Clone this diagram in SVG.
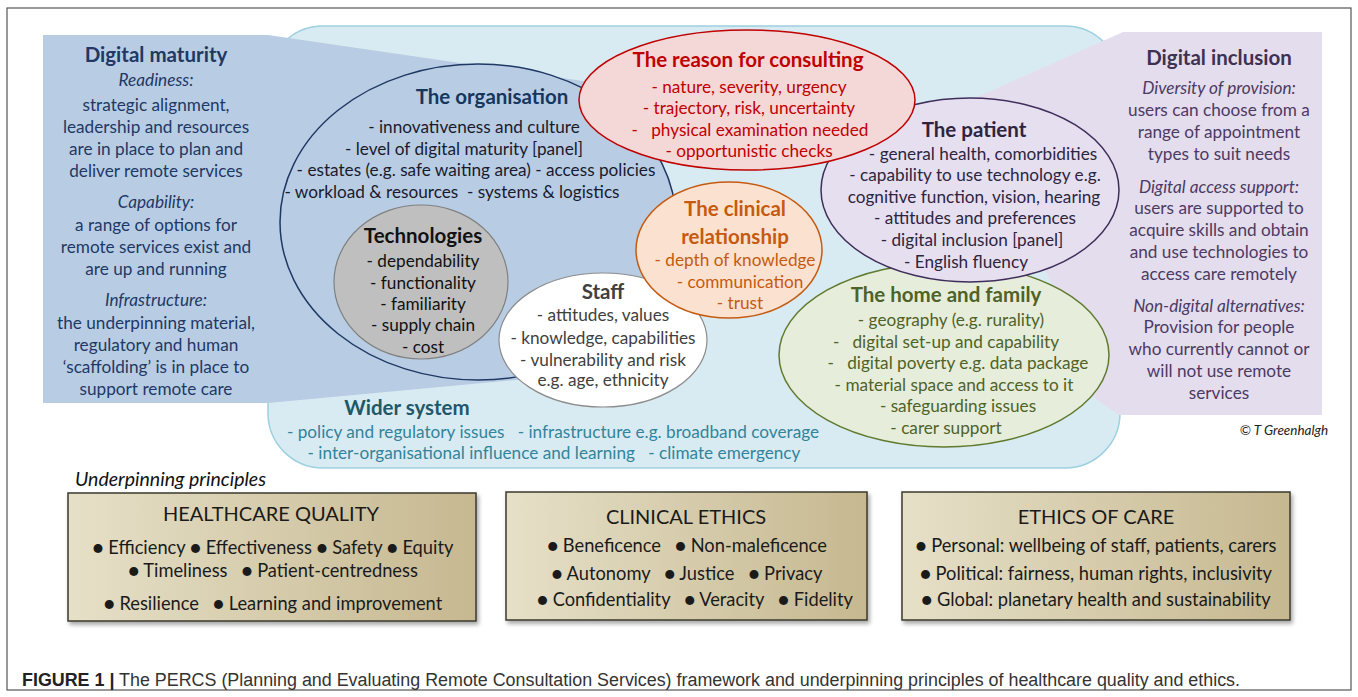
<svg xmlns="http://www.w3.org/2000/svg" width="1358" height="697" viewBox="0 0 1358 697">
<style>
.t{font-family:Lato,"Open Sans","Liberation Sans",sans-serif;text-anchor:middle}
.h{font-weight:bold;font-size:20.5px}
.b{font-size:17.2px}
.i{font-style:italic;font-size:17.2px}
.box{stroke:#3b3a2c;stroke-width:1.5;fill:url(#tan);filter:url(#sh)}
.bt{font-family:Lato,"Open Sans","Liberation Sans",sans-serif;text-anchor:middle;fill:#1a1a1a}
.bl{font-size:18.3px}
</style>
<defs>
<linearGradient id="tan" x1="0" y1="0" x2="1" y2="0">
<stop offset="0" stop-color="#e6e0c8"/>
<stop offset="1" stop-color="#c6b890"/>
</linearGradient>
<filter id="sh" x="-5%" y="-5%" width="112%" height="115%">
<feDropShadow dx="2" dy="3" stdDeviation="2" flood-color="#000" flood-opacity="0.35"/>
</filter>
</defs>
<rect x="0" y="0" width="1358" height="697" fill="#fff"/>
<rect x="7" y="8" width="1344" height="682" fill="none" stroke="#555" stroke-width="1.2"/>

<g id="wider-system">
<rect x="268" y="26" width="852" height="442" rx="55" fill="#d9ebf2" stroke="#9dd0e0" stroke-width="1.5"/>
<text class="t h" x="407" y="415" fill="#215868">Wider system</text>
<text class="t b" x="553" y="438" fill="#31849b" xml:space="preserve">- policy and regulatory issues   - infrastructure e.g. broadband coverage</text>
<text class="t b" x="554" y="459" fill="#31849b" xml:space="preserve">- inter-organisational influence and learning   - climate emergency</text>
</g>

<g id="digital-maturity">
<polygon points="43,35 268,35 590,82 640,200 560,376 268,403 43,403" fill="#b8cde4"/>
<text class="t h" x="156" y="62" fill="#1f3864">Digital maturity</text>
<text class="t i" x="156" y="86" fill="#1f3864">Readiness:</text>
<text class="t b" x="156" y="111" fill="#1f3864">strategic alignment,</text>
<text class="t b" x="156" y="133" fill="#1f3864">leadership and resources</text>
<text class="t b" x="156" y="155" fill="#1f3864">are in place to plan and</text>
<text class="t b" x="156" y="177" fill="#1f3864">deliver remote services</text>
<text class="t i" x="156" y="208" fill="#1f3864">Capability:</text>
<text class="t b" x="156" y="231" fill="#1f3864">a range of options for</text>
<text class="t b" x="156" y="253" fill="#1f3864">remote services exist and</text>
<text class="t b" x="156" y="275" fill="#1f3864">are up and running</text>
<text class="t i" x="156" y="306" fill="#1f3864">Infrastructure:</text>
<text class="t b" x="156" y="329" fill="#1f3864">the underpinning material,</text>
<text class="t b" x="156" y="351" fill="#1f3864">regulatory and human</text>
<text class="t b" x="156" y="373" fill="#1f3864">‘scaffolding’ is in place to</text>
<text class="t b" x="156" y="395" fill="#1f3864">support remote care</text>
</g>

<g id="digital-inclusion">
<polygon points="1123,32 1322,32 1322,415 1119,415 1090,395 1060,300 1000,180 975,98" fill="#e4dded"/>
<text class="t h" x="1219" y="65" fill="#3f3151">Digital inclusion</text>
<text class="t i" x="1219" y="94" fill="#4b3a63">Diversity of provision:</text>
<text class="t b" x="1219" y="116" fill="#4b3a63">users can choose from a</text>
<text class="t b" x="1219" y="138" fill="#4b3a63">range of appointment</text>
<text class="t b" x="1219" y="160" fill="#4b3a63">types to suit needs</text>
<text class="t i" x="1219" y="193" fill="#4b3a63">Digital access support:</text>
<text class="t b" x="1219" y="214" fill="#4b3a63">users are supported to</text>
<text class="t b" x="1219" y="236" fill="#4b3a63">acquire skills and obtain</text>
<text class="t b" x="1219" y="258" fill="#4b3a63">and use technologies to</text>
<text class="t b" x="1219" y="280" fill="#4b3a63">access care remotely</text>
<text class="t i" x="1219" y="312" fill="#4b3a63">Non-digital alternatives:</text>
<text class="t b" x="1219" y="333" fill="#4b3a63">Provision for people</text>
<text class="t b" x="1219" y="355" fill="#4b3a63">who currently cannot or</text>
<text class="t b" x="1219" y="377" fill="#4b3a63">will not use remote</text>
<text class="t b" x="1219" y="399" fill="#4b3a63">services</text>
<text class="t" x="1284" y="435" font-size="13.5" font-style="italic" fill="#222">© T Greenhalgh</text>
</g>

<g id="organisation">
<ellipse cx="478" cy="222" rx="198" ry="158" fill="#b8cde4" stroke="#1f3864" stroke-width="1.5"/>
<text class="t h" x="492" y="104" fill="#17365d">The organisation</text>
<text class="t b" x="474" y="133" fill="#1a1a2e">- innovativeness and culture</text>
<text class="t b" x="464" y="155" fill="#1a1a2e">- level of digital maturity [panel]</text>
<text class="t b" x="476" y="176" fill="#1a1a2e">- estates (e.g. safe waiting area) - access policies</text>
<text class="t b" x="452" y="198" fill="#1a1a2e" xml:space="preserve">- workload &amp; resources  - systems &amp; logistics</text>
</g>

<g id="technologies">
<ellipse cx="421" cy="282" rx="87" ry="77" fill="#bfbfbf" stroke="#808080" stroke-width="1.2"/>
<text class="t h" x="423" y="243" fill="#111">Technologies</text>
<text class="t b" x="423" y="267" fill="#111">- dependability</text>
<text class="t b" x="423" y="289" fill="#111">- functionality</text>
<text class="t b" x="423" y="310" fill="#111">- familiarity</text>
<text class="t b" x="423" y="331" fill="#111">- supply chain</text>
<text class="t b" x="423" y="353" fill="#111">- cost</text>
</g>

<g id="home-family">
<ellipse cx="944" cy="355" rx="165" ry="92" fill="#e6eedb" stroke="#5f7a2e" stroke-width="1.5"/>
<text class="t h" x="946" y="302" fill="#4f6228">The home and family</text>
<text class="t b" x="951" y="326" fill="#4f6228">- geography (e.g. rurality)</text>
<text class="t b" x="946" y="348" fill="#4f6228" xml:space="preserve">-   digital set-up and capability</text>
<text class="t b" x="958" y="369" fill="#4f6228" xml:space="preserve">-   digital poverty e.g. data package</text>
<text class="t b" x="954" y="391" fill="#4f6228">- material space and access to it</text>
<text class="t b" x="958" y="412" fill="#4f6228">- safeguarding issues</text>
<text class="t b" x="946" y="434" fill="#4f6228">- carer support</text>
</g>

<g id="patient">
<ellipse cx="970" cy="190" rx="149" ry="92" fill="#e6dff0" stroke="#3f2d5a" stroke-width="1.5"/>
<text class="t h" x="974" y="137" fill="#2d2540">The patient</text>
<text class="t b" x="983" y="160" fill="#2d2540">- general health, comorbidities</text>
<text class="t b" x="975" y="181" fill="#2d2540">- capability to use technology e.g.</text>
<text class="t b" x="974" y="203" fill="#2d2540">cognitive function, vision, hearing</text>
<text class="t b" x="975" y="224" fill="#2d2540">- attitudes and preferences</text>
<text class="t b" x="972" y="246" fill="#2d2540">- digital inclusion [panel]</text>
<text class="t b" x="966" y="268" fill="#2d2540">- English fluency</text>
</g>

<g id="reason">
<ellipse cx="747" cy="100" rx="168" ry="70" fill="#f4d8d8" stroke="#c00000" stroke-width="1.5"/>
<text class="t h" x="748" y="67" fill="#c00000">The reason for consulting</text>
<text class="t b" x="749" y="93" fill="#c00000">- nature, severity, urgency</text>
<text class="t b" x="749" y="114" fill="#c00000">- trajectory, risk, uncertainty</text>
<text class="t b" x="750" y="136" fill="#c00000" xml:space="preserve">-   physical examination needed</text>
<text class="t b" x="749" y="157" fill="#c00000">- opportunistic checks</text>
</g>

<g id="staff">
<ellipse cx="603" cy="340" rx="104" ry="67" fill="#ffffff" stroke="#8c8c8c" stroke-width="1.2"/>
<text class="t h" x="603" y="299" fill="#404040">Staff</text>
<text class="t b" x="603" y="321" fill="#404040">- attitudes, values</text>
<text class="t b" x="603" y="344" fill="#404040">- knowledge, capabilities</text>
<text class="t b" x="603" y="366" fill="#404040">- vulnerability and risk</text>
<text class="t b" x="603" y="386" fill="#404040">e.g. age, ethnicity</text>
</g>

<g id="clinical-relationship">
<ellipse cx="729" cy="250" rx="93" ry="68" fill="#fbe2d0" stroke="#c55a11" stroke-width="1.5"/>
<text class="t h" x="735" y="216" fill="#c55a11">The clinical</text>
<text class="t h" x="735" y="244" fill="#c55a11">relationship</text>
<text class="t b" x="735" y="266" fill="#c55a11">- depth of knowledge</text>
<text class="t b" x="740" y="288" fill="#c55a11">- communication</text>
<text class="t b" x="740" y="309" fill="#c55a11">- trust</text>
</g>

<g id="connectors"></g>

<g id="principles">
<text x="75" y="486" font-family="Lato,'Open Sans',sans-serif" font-size="19.5" font-style="italic" fill="#111">Underpinning principles</text>
<g id="healthcare-quality">
<rect class="box" x="68" y="493" width="408" height="128"/>
<text class="bt" x="271" y="521" font-size="20">HEALTHCARE QUALITY</text>
<text class="bt bl" x="273" y="554">● Efficiency  ● Effectiveness  ● Safety  ● Equity</text>
<text class="bt bl" x="273" y="577" xml:space="preserve">● Timeliness   ● Patient-centredness</text>
<text class="bt bl" x="273" y="610" xml:space="preserve">● Resilience   ● Learning and improvement</text>
</g>
<g id="clinical-ethics">
<rect class="box" x="506" y="492" width="361" height="128"/>
<text class="bt" x="686" y="524" font-size="20">CLINICAL ETHICS</text>
<text class="bt bl" x="687" y="552" xml:space="preserve">● Beneficence   ● Non-maleficence</text>
<text class="bt bl" x="687" y="580" xml:space="preserve">● Autonomy   ● Justice   ● Privacy</text>
<text class="bt bl" x="695" y="606" xml:space="preserve">● Confidentiality   ● Veracity   ● Fidelity</text>
</g>
<g id="ethics-of-care">
<rect class="box" x="902" y="492" width="388" height="128"/>
<text class="bt" x="1096" y="524" font-size="20">ETHICS OF CARE</text>
<text class="bt bl" x="1096" y="552">● Personal: wellbeing of staff, patients, carers</text>
<text class="bt bl" x="1096" y="580">● Political: fairness, human rights, inclusivity</text>
<text class="bt bl" x="1096" y="606">● Global: planetary health and sustainability</text>
</g>
</g>

<text x="22" y="686" font-family="'Liberation Sans',Arial,sans-serif" font-size="18" fill="#333" textLength="1218" lengthAdjust="spacingAndGlyphs"><tspan font-weight="bold" fill="#222">FIGURE 1 |</tspan> The PERCS (Planning and Evaluating Remote Consultation Services) framework and underpinning principles of healthcare quality and ethics.</text>
</svg>
